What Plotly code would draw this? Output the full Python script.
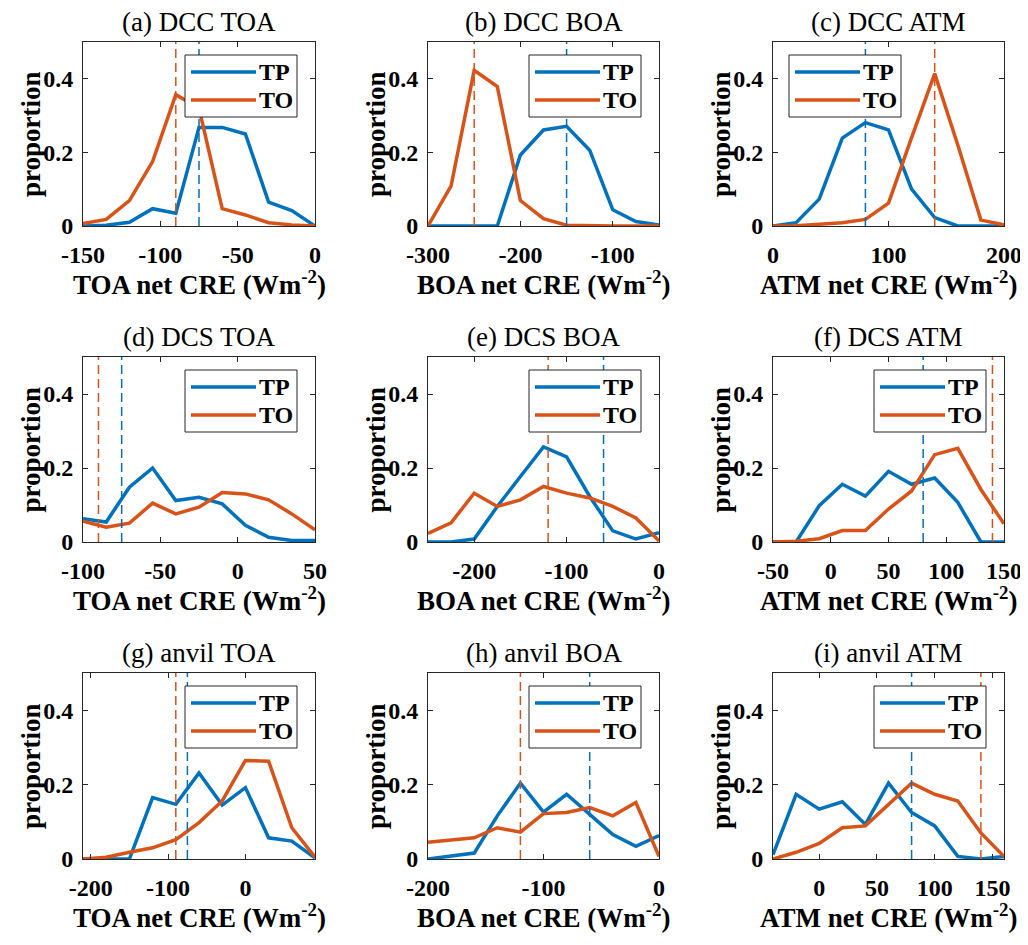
import plotly.graph_objects as go

# ---------------- data ----------------
titles = ["(a) DCC TOA", "(b) DCC BOA", "(c) DCC ATM",
          "(d) DCS TOA", "(e) DCS BOA", "(f) DCS ATM",
          "(g) anvil TOA", "(h) anvil BOA", "(i) anvil ATM"]
xlabels = ["TOA", "BOA", "ATM"] * 3

x_dcc_toa = [-150, -135, -120, -105, -90, -75, -60, -45, -30, -15, 0]
tp_dcc_toa = [0.0, 0.002, 0.01, 0.047, 0.035, 0.268, 0.268, 0.25, 0.065, 0.042, 0.0]
to_dcc_toa = [0.007, 0.018, 0.069, 0.175, 0.357, 0.32, 0.047, 0.03, 0.009, 0.003, 0.0]

x_dcc_boa = [-300, -275, -250, -225, -200, -175, -150, -125, -100, -75, -50]
tp_dcc_boa = [0.0, 0.0, 0.0, 0.0, 0.193, 0.261, 0.271, 0.206, 0.044, 0.012, 0.003]
to_dcc_boa = [0.0, 0.109, 0.423, 0.379, 0.069, 0.02, 0.002, 0.0, 0.0, 0.0, 0.0]

x_dcc_atm = [0, 20, 40, 60, 80, 100, 120, 140, 160, 180, 200]
tp_dcc_atm = [0.0, 0.009, 0.073, 0.239, 0.281, 0.261, 0.1, 0.023, 0.0, 0.0, 0.0]
to_dcc_atm = [0.0, 0.001, 0.005, 0.009, 0.018, 0.062, 0.24, 0.414, 0.22, 0.016, 0.003]

x_dcs_toa = [-100, -85, -70, -55, -40, -25, -10, 5, 20, 35, 50]
tp_dcs_toa = [0.063, 0.054, 0.148, 0.2, 0.112, 0.121, 0.103, 0.045, 0.013, 0.004, 0.004]
to_dcs_toa = [0.056, 0.04, 0.051, 0.105, 0.076, 0.094, 0.134, 0.13, 0.114, 0.076, 0.033]

x_dcs_boa = [-250, -225, -200, -175, -150, -125, -100, -75, -50, -25, 0]
tp_dcs_boa = [0.0, 0.0, 0.008, 0.096, 0.177, 0.257, 0.23, 0.123, 0.03, 0.008, 0.025]
to_dcs_boa = [0.023, 0.052, 0.132, 0.096, 0.114, 0.15, 0.132, 0.119, 0.096, 0.065, 0.003]

x_dcs_atm = [-50, -30, -10, 10, 30, 50, 70, 90, 110, 130, 150]
tp_dcs_atm = [0.0, 0.0, 0.098, 0.156, 0.124, 0.191, 0.156, 0.173, 0.107, 0.0, 0.0]
to_dcs_atm = [0.0, 0.002, 0.009, 0.031, 0.031, 0.089, 0.138, 0.236, 0.253, 0.142, 0.049]

x_anv_toa = [-210, -180, -150, -120, -90, -60, -30, 0, 30, 60, 90]
tp_anv_toa = [0.0, 0.0, 0.0, 0.165, 0.147, 0.231, 0.145, 0.192, 0.057, 0.048, 0.003]
to_anv_toa = [0.0, 0.005, 0.018, 0.03, 0.052, 0.098, 0.156, 0.265, 0.263, 0.084, 0.005]

x_anv_boa = [-200, -180, -160, -140, -120, -100, -80, -60, -40, -20, 0]
tp_anv_boa = [0.0, 0.007, 0.016, 0.116, 0.204, 0.126, 0.174, 0.12, 0.066, 0.034, 0.063]
to_anv_boa = [0.045, 0.052, 0.057, 0.084, 0.072, 0.122, 0.125, 0.138, 0.116, 0.152, 0.007]

x_anv_atm = [-40, -20, 0, 20, 40, 60, 80, 100, 120, 140, 160]
tp_anv_atm = [0.012, 0.174, 0.134, 0.154, 0.093, 0.204, 0.125, 0.089, 0.007, 0.0, 0.007]
to_anv_atm = [0.0, 0.018, 0.042, 0.084, 0.089, 0.147, 0.204, 0.174, 0.156, 0.07, 0.007]

# reference (dashed) values: TP, TO
ref_tp = [-75, -150, 80, -75, -60, 80, -75, -60, 80]
ref_to = [-90, -250, 140, -90, -120, 140, -90, -120, 140]

# axis ranges and ticks
x_ranges = [[-150, 0], [-300, -50], [0, 200],
            [-100, 50], [-250, 0], [-50, 150],
            [-210, 90], [-200, 0], [-40, 160]]
x_ticks = [[-150, -100, -50, 0], [-300, -200, -100], [0, 100, 200],
           [-100, -50, 0, 50], [-200, -100, 0], [-50, 0, 50, 100, 150],
           [-200, -100, 0], [-200, -100, 0], [0, 50, 100, 150]]
y_range = [0, 0.5]
y_ticks = [0, 0.2, 0.4]
y_ticktext = ["0", "0.2", "0.4"]
legend_side = ["right", "right", "left"] + ["right"] * 6
series_labels = ["TP", "TO"]

xs = [x_dcc_toa, x_dcc_boa, x_dcc_atm, x_dcs_toa, x_dcs_boa, x_dcs_atm,
      x_anv_toa, x_anv_boa, x_anv_atm]
tps = [tp_dcc_toa, tp_dcc_boa, tp_dcc_atm, tp_dcs_toa, tp_dcs_boa, tp_dcs_atm,
       tp_anv_toa, tp_anv_boa, tp_anv_atm]
tos = [to_dcc_toa, to_dcc_boa, to_dcc_atm, to_dcs_toa, to_dcs_boa, to_dcs_atm,
       to_anv_toa, to_anv_boa, to_anv_atm]

# ---------------- styling / layout ----------------
W, H = 1028, 945
PAGE_OFFSET = 8   # the html body margin shifts the figure by this many px
BLUE = "#0072BD"
ORANGE = "#D95319"
FONT = "Liberation Serif"
AX = "#262626"
LW = 3.5
cols_px = [(83, 315), (428, 659), (773, 1004)]
rows_px = [(42, 226), (357, 542), (673, 859)]

fig = go.Figure()
shapes = []
annotations = []
layout = {}

for i in range(9):
    r, c = divmod(i, 3)
    n = i + 1
    xa = "x" if n == 1 else f"x{n}"
    ya = "y" if n == 1 else f"y{n}"
    l, rr = (p - PAGE_OFFSET for p in cols_px[c])
    t, b = (p - PAGE_OFFSET for p in rows_px[r])
    pw, ph = rr - l, b - t

    fig.add_trace(go.Scatter(x=xs[i], y=tps[i], mode="lines", xaxis=xa, yaxis=ya,
                             line=dict(color=BLUE, width=LW), showlegend=False))
    fig.add_trace(go.Scatter(x=xs[i], y=tos[i], mode="lines", xaxis=xa, yaxis=ya,
                             line=dict(color=ORANGE, width=LW), showlegend=False))

    axis_common = dict(showgrid=False, zeroline=False, showline=True, linecolor=AX,
                       linewidth=1, mirror="ticks", ticks="inside", ticklen=5,
                       tickcolor=AX, tickwidth=1, automargin=False,
                       tickfont=dict(family=FONT, size=24, color="black", weight="bold"))
    layout["xaxis" if n == 1 else f"xaxis{n}"] = dict(
        axis_common, domain=[l / W, rr / W], range=x_ranges[i], anchor=ya,
        tickmode="array", tickvals=x_ticks[i], ticktext=[str(v) for v in x_ticks[i]],
        ticklabelstandoff=7)
    layout["yaxis" if n == 1 else f"yaxis{n}"] = dict(
        axis_common, domain=[1 - b / H, 1 - t / H], range=y_range, anchor=xa,
        tickmode="array", tickvals=y_ticks, ticktext=y_ticktext,
        ticklabelstandoff=4)

    xd, yd = f"{xa} domain", f"{ya} domain"

    # dashed reference lines
    for val, col in ((ref_tp[i], BLUE), (ref_to[i], ORANGE)):
        shapes.append(dict(type="line", xref=xa, yref=yd, x0=val, x1=val, y0=0, y1=1,
                           line=dict(color=col, width=1.5, dash="9px,5px"), layer="above"))

    # titles and axis labels
    annotations.append(dict(text=titles[i], xref=xd, yref=yd, x=0.5, y=1,
                            xanchor="center", yanchor="middle", yshift=20, showarrow=False,
                            font=dict(family=FONT, size=27, color="black")))
    annotations.append(dict(text=f"{xlabels[i]} net CRE (Wm<sup>-2</sup>)",
                            xref=xd, yref=yd, x=0.5, y=0, xanchor="center",
                            yanchor="middle", yshift=-57, showarrow=False,
                            font=dict(family=FONT, size=27, color="black", weight="bold")))
    annotations.append(dict(text="proportion", xref=xd, yref=yd, x=0, y=0.5,
                            xanchor="center", yanchor="middle", xshift=-52, textangle=-90,
                            showarrow=False,
                            font=dict(family=FONT, size=27, color="black", weight="bold")))

    # legend box (drawn manually, MATLAB style)
    bw, bh, gap, top = 112, 62, 18, 13
    if legend_side[i] == "right":
        bx0 = pw - gap - bw
    else:
        bx0 = 16
    fx = lambda p: p / pw
    fy = lambda p: 1 - p / ph
    shapes.append(dict(type="rect", xref=xd, yref=yd, x0=fx(bx0), x1=fx(bx0 + bw),
                       y0=fy(top + bh), y1=fy(top), fillcolor="white",
                       line=dict(color=AX, width=1), layer="above"))
    for k, (lab, col) in enumerate(zip(series_labels, (BLUE, ORANGE))):
        yy = top + 17 + 28 * k
        shapes.append(dict(type="line", xref=xd, yref=yd, x0=fx(bx0 + 6), x1=fx(bx0 + 71),
                           y0=fy(yy), y1=fy(yy), line=dict(color=col, width=LW),
                           layer="above"))
        annotations.append(dict(text=lab, xref=xd, yref=yd, x=fx(bx0 + 72),
                                y=fy(yy), xanchor="left", yanchor="middle", showarrow=False,
                                font=dict(family=FONT, size=24, color="black", weight="bold")))

fig.update_layout(**layout)
fig.update_layout(width=W, height=H, margin=dict(l=0, r=0, t=0, b=0, autoexpand=False),
                  paper_bgcolor="white", plot_bgcolor="white",
                  font=dict(family=FONT, color="black"),
                  shapes=shapes, annotations=annotations, showlegend=False)

fig.write_html("out.html")
